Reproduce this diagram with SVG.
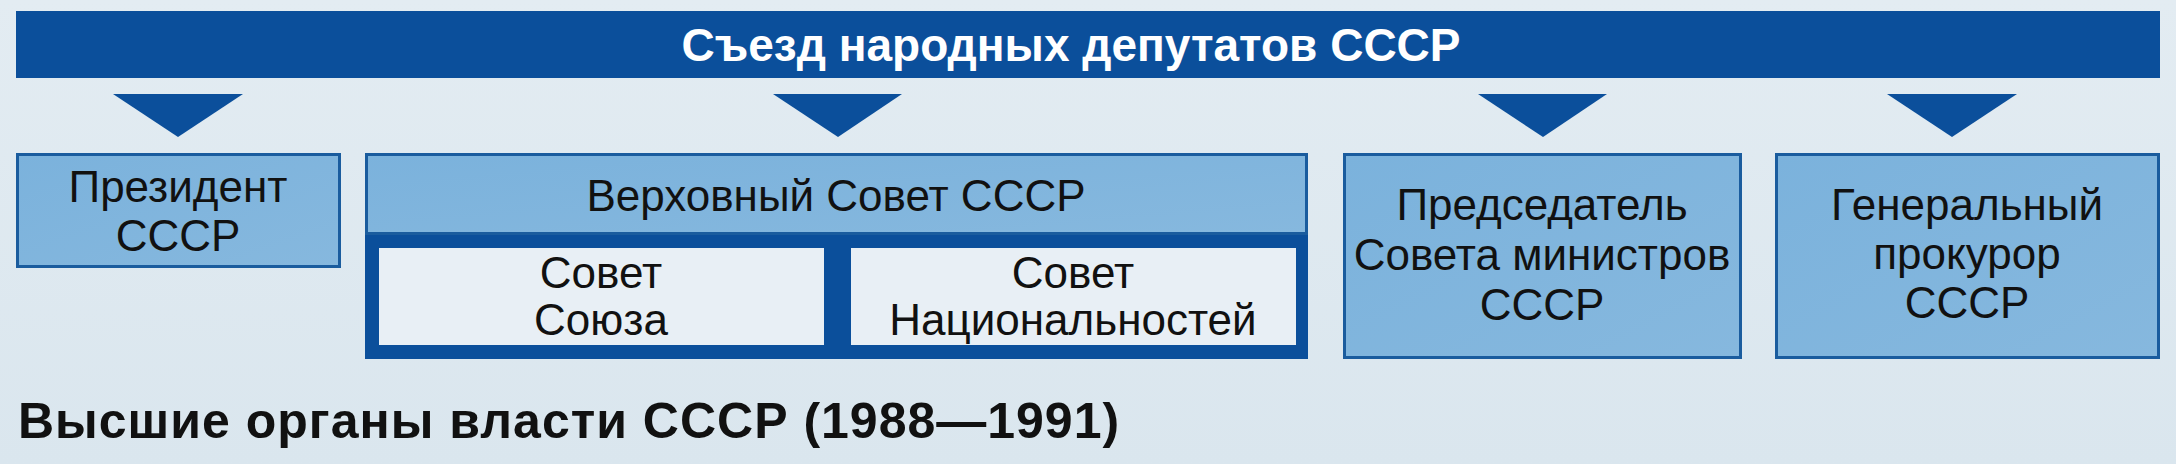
<svg xmlns="http://www.w3.org/2000/svg" width="2176" height="464" viewBox="0 0 2176 464">
  <defs>
    <linearGradient id="bg" x1="0" y1="0" x2="0" y2="1">
      <stop offset="0" stop-color="#e3ecf2"/>
      <stop offset="1" stop-color="#dae6ee"/>
    </linearGradient>
    <linearGradient id="boxfill" x1="0" y1="0" x2="1" y2="1">
      <stop offset="0" stop-color="#7bb2dc"/>
      <stop offset="1" stop-color="#86b8de"/>
    </linearGradient>
  </defs>
  <style>
    .bar { fill: #0b4f9b; }
    .arrow { fill: #0b4f9b; }
    .box { fill: url(#boxfill); stroke: #1a5c9e; stroke-width: 3; }
    .dark { fill: #0b4f9b; }
    .inner { fill: #e8eff5; }
    .t { font-family: "Liberation Sans", Arial, sans-serif; font-size: 44px; fill: #111; text-anchor: middle; }
    .title { font-family: "Liberation Sans", Arial, sans-serif; font-weight: bold; font-size: 46px; fill: #ffffff; text-anchor: middle; }
    .caption { font-family: "Liberation Sans", Arial, sans-serif; font-weight: bold; font-size: 50px; fill: #111; letter-spacing: 1px; }
  </style>
  <rect x="0" y="0" width="2176" height="464" fill="url(#bg)"/>

  <g id="congress">
    <rect class="bar" x="16" y="11" width="2144" height="67"/>
    <text class="title" x="1071" y="61">Съезд народных депутатов СССР</text>
  </g>

  <g id="connectors">
    <polygon class="arrow" points="113,94 243,94 178,137"/>
    <polygon class="arrow" points="773,94 902,94 838,137"/>
    <polygon class="arrow" points="1478,94 1607,94 1543,137"/>
    <polygon class="arrow" points="1887,94 2017,94 1952,137"/>
  </g>

  <g id="president">
    <rect class="box" x="17.5" y="154.5" width="322" height="112"/>
    <text class="t" x="178" y="202">Президент</text>
    <text class="t" x="178" y="251">СССР</text>
  </g>

  <g id="supreme-soviet">
    <rect class="dark" x="365" y="153" width="943" height="206"/>
    <rect class="box" x="366.5" y="154.5" width="940" height="79"/>
    <text class="t" x="836" y="211">Верховный Совет СССР</text>
    <g id="soviet-union">
      <rect class="inner" x="379" y="248" width="445" height="97"/>
      <text class="t" x="601" y="288">Совет</text>
      <text class="t" x="601" y="335">Союза</text>
    </g>
    <g id="soviet-nationalities">
      <rect class="inner" x="851" y="248" width="445" height="97"/>
      <text class="t" x="1073" y="288">Совет</text>
      <text class="t" x="1073" y="335">Национальностей</text>
    </g>
  </g>

  <g id="chairman">
    <rect class="box" x="1344.5" y="154.5" width="396" height="203"/>
    <text class="t" x="1542" y="220">Председатель</text>
    <text class="t" x="1542" y="270">Совета министров</text>
    <text class="t" x="1542" y="320">СССР</text>
  </g>

  <g id="prosecutor">
    <rect class="box" x="1776.5" y="154.5" width="382" height="203"/>
    <text class="t" x="1967" y="220">Генеральный</text>
    <text class="t" x="1967" y="269">прокурор</text>
    <text class="t" x="1967" y="318">СССР</text>
  </g>

  <g id="caption">
    <text class="caption" x="18" y="438">Высшие органы власти СССР (1988—1991)</text>
  </g>
</svg>
